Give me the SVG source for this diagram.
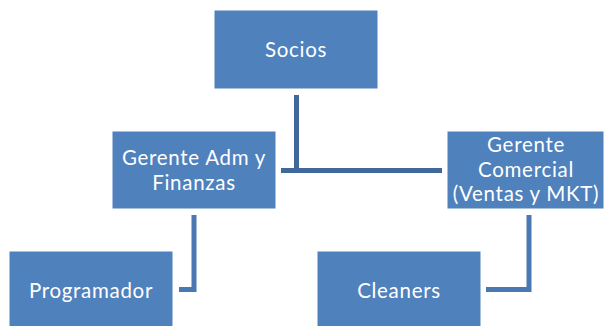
<svg xmlns="http://www.w3.org/2000/svg" width="606" height="326" viewBox="0 0 606 326">
<style>
.box{fill:#4F81BD;stroke:#FFFFFF;stroke-width:1}
.t{fill:#FFFFFF;font-family:Lato,"Open Sans",sans-serif;font-size:20.5px;letter-spacing:0.7px;text-anchor:middle}
.c1{fill:none;stroke:#41689B;stroke-width:5}
.c2{fill:none;stroke:#4A78B2;stroke-width:5}
</style>
<rect width="606" height="326" fill="#FFFFFF"/>
<g id="connectors">
<path class="c1" d="M296.5,95 V170.5 H281"/>
<path class="c1" d="M296.5,170.5 H442"/>
<path class="c2" d="M194,215 V289.5 H179"/>
<path class="c2" d="M529,215 V289.5 H486"/>
</g>
<g id="socios">
<rect class="box" x="214" y="10" width="164" height="79"/>
<text class="t" x="296" y="57">Socios</text>
</g>
<g id="gerente-adm">
<rect class="box" x="112" y="131" width="164" height="78"/>
<text class="t" x="194" y="165">Gerente Adm y</text>
<text class="t" x="194" y="190">Finanzas</text>
</g>
<g id="gerente-comercial">
<rect class="box" x="447" y="131" width="157" height="78"/>
<text class="t" x="526" y="152">Gerente</text>
<text class="t" x="526" y="176.5">Comercial</text>
<text class="t" x="526" y="201">(Ventas y MKT)</text>
</g>
<g id="programador">
<rect class="box" x="9" y="251" width="164" height="80"/>
<text class="t" x="91" y="298">Programador</text>
</g>
<g id="cleaners">
<rect class="box" x="317" y="251" width="164" height="80"/>
<text class="t" x="399" y="298">Cleaners</text>
</g>
</svg>
